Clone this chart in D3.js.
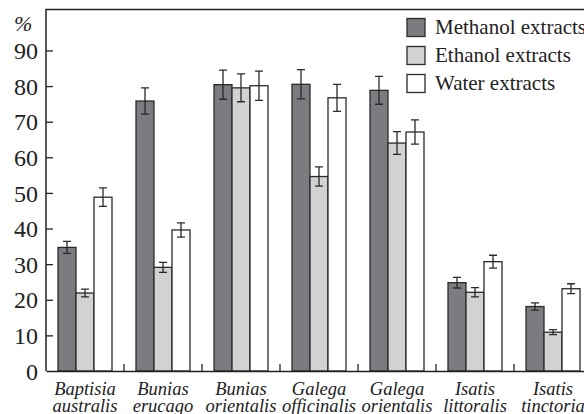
<!DOCTYPE html>
<html>
<head>
<meta charset="utf-8">
<script src="https://cdn.jsdelivr.net/npm/d3@7"></script>
<style>
  body { margin: 0; background: #fff; }
  svg text { font-family: "Liberation Serif", "Times New Roman", serif; fill: #222; }
</style>
</head>
<body>
<svg id="chart" width="584" height="414"></svg>
<script>
// species (two-line labels)
const species = [
  ['Baptisia', 'australis'],
  ['Bunias', 'erucago'],
  ['Bunias', 'orientalis'],
  ['Galega', 'officinalis'],
  ['Galega', 'orientalis'],
  ['Isatis', 'littoralis'],
  ['Isatis', 'tinctoria']
];
const series = ['Methanol extracts', 'Ethanol extracts', 'Water extracts'];
const colors = ['#7b7c80', '#d1d2d4', '#ffffff'];

const methanol = [34.7, 75.8, 80.4, 80.5, 78.8, 24.8, 18.1];
const ethanol = [21.9, 29.1, 79.5, 54.6, 64.0, 22.1, 10.9];
const water = [48.8, 39.6, 80.1, 76.7, 67.1, 30.7, 23.1];
const methanolErr = [1.7, 3.7, 4.1, 4.1, 3.9, 1.5, 1.0];
const ethanolErr = [1.1, 1.4, 3.9, 2.7, 3.2, 1.3, 0.7];
const waterErr = [2.6, 2.0, 4.1, 3.8, 3.4, 1.8, 1.4];
const yTicks = [0, 10, 20, 30, 40, 50, 60, 70, 80, 90];

const MARGIN = { top: 9.5, left: 46, bottom: 43 };
const GROUP_W = 78;
const PLOT_H = 414 - MARGIN.top - MARGIN.bottom;

const values = [methanol, ethanol, water];
const errors = [methanolErr, ethanolErr, waterErr];
const names = species.map(d => d.join(' '));

const data = [];
names.forEach((n, i) => {
  series.forEach((s, j) => {
    data.push({ name: n, series: s, idx: j, value: values[j][i], err: errors[j][i] });
  });
});

const svg = d3.select('#chart');

const x0 = d3.scaleBand()
  .domain(names)
  .range([MARGIN.left, MARGIN.left + GROUP_W * names.length])
  .padding(0);

const x1 = d3.scaleBand()
  .domain(series)
  .range([0, x0.bandwidth()])
  .paddingInner(0)
  .paddingOuter(0.667);

const y = d3.scaleLinear()
  .domain([0, 101.5])
  .range([MARGIN.top + PLOT_H, MARGIN.top]);

// frame (top + left), baseline
const xEnd = x0.range()[1];
svg.append('path')
  .attr('d', `M${MARGIN.left},${y(0)}V${MARGIN.top}H${xEnd}`)
  .attr('fill', 'none')
  .attr('stroke', '#222')
  .attr('stroke-width', 1.5);

// bars
const g = svg.append('g').attr('class', 'bars');
g.selectAll('rect')
  .data(data)
  .join('rect')
  .attr('x', d => x0(d.name) + x1(d.series))
  .attr('y', d => y(d.value))
  .attr('width', x1.bandwidth())
  .attr('height', d => y(0) - y(d.value))
  .attr('fill', d => colors[d.idx])
  .attr('stroke', '#2a2a2a')
  .attr('stroke-width', 1.3);

// error bars
const eb = svg.append('g').attr('class', 'errors')
  .attr('stroke', '#2a2a2a')
  .attr('stroke-width', 1.3)
  .attr('fill', 'none');
eb.selectAll('path')
  .data(data)
  .join('path')
  .attr('d', d => {
    const cx = x0(d.name) + x1(d.series) + x1.bandwidth() / 2;
    const t = y(d.value + d.err), b = y(d.value - d.err);
    return `M${cx - 4},${t}H${cx + 4}M${cx},${t}V${b}M${cx - 4},${b}H${cx + 4}`;
  });

// y axis
const axisY = d3.axisLeft(y)
  .tickValues(yTicks)
  .tickSizeInner(-7)
  .tickSizeOuter(0)
  .tickPadding(8)
  .tickFormat(d3.format('d'));

const gy = svg.append('g')
  .attr('transform', `translate(${MARGIN.left},0)`)
  .call(axisY);
gy.select('.domain').remove();
gy.selectAll('line').attr('stroke', '#222').attr('stroke-width', 1.3);
gy.selectAll('.tick line').filter(d => d === 0).remove();
gy.selectAll('text')
  .attr('font-size', 24)
  .attr('dy', '0.34em')
  .attr('font-family', '"Liberation Serif", serif')
  .attr('fill', '#222');

svg.append('text')
  .attr('x', 14)
  .attr('y', 31)
  .attr('font-size', 22)
  .attr('font-style', 'italic')
  .text('%');

// baseline + group separators
const axisX = d3.axisBottom(x0)
  .tickValues([])
  .tickSizeOuter(0);
svg.append('g')
  .attr('transform', `translate(0,${y(0)})`)
  .call(axisX)
  .select('.domain')
  .attr('stroke', '#222')
  .attr('stroke-width', 1.5);

svg.append('g')
  .selectAll('line')
  .data(names.slice(1))
  .join('line')
  .attr('x1', d => x0(d))
  .attr('x2', d => x0(d))
  .attr('y1', y(0))
  .attr('y2', y(0) - 7)
  .attr('stroke', '#222')
  .attr('stroke-width', 1.3);

// category labels
const lab = svg.append('g')
  .selectAll('text')
  .data(species)
  .join('text')
  .attr('x', (d, i) => x0(names[i]) + x0.bandwidth() / 2)
  .attr('y', 395)
  .attr('text-anchor', 'middle')
  .attr('font-size', 18.5)
  .attr('font-style', 'italic');
lab.append('tspan').text(d => d[0]);
lab.append('tspan')
  .attr('x', (d, i) => x0(names[i]) + x0.bandwidth() / 2)
  .attr('dy', 16.5)
  .text(d => d[1]);

// legend
const legend = svg.append('g').attr('class', 'legend');
const li = legend.selectAll('g')
  .data(series)
  .join('g')
  .attr('transform', (d, i) => `translate(407,${18.5 + i * 28})`);
li.append('rect')
  .attr('width', 18)
  .attr('height', 18)
  .attr('fill', (d, i) => colors[i])
  .attr('stroke', '#2a2a2a')
  .attr('stroke-width', 1.3);
li.append('text')
  .attr('x', 28)
  .attr('y', 15.5)
  .attr('font-size', 21)
  .text(d => d);
</script>
</body>
</html>
